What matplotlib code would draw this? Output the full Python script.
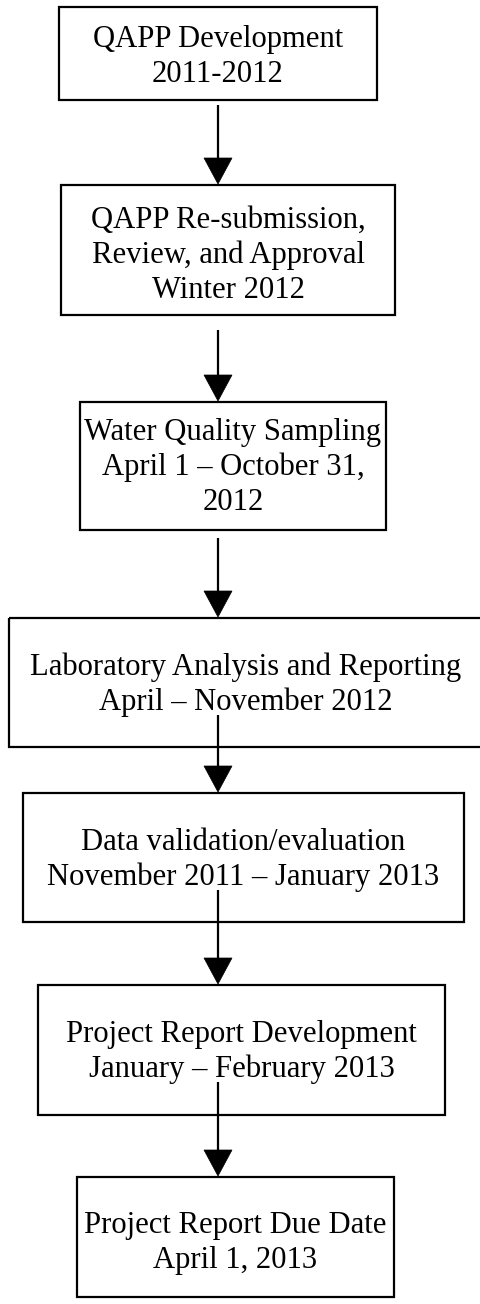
import matplotlib
matplotlib.use("Agg")
import matplotlib.pyplot as plt
from matplotlib.patches import Rectangle, Polygon

plt.rcParams['font.family'] = ['Liberation Serif', 'DejaVu Serif']

# step labels, one list of lines per box
steps = [
    ["QAPP Development", "2011-2012"],
    ["QAPP Re-submission,", "Review, and Approval", "Winter 2012"],
    ["Water Quality Sampling", "April 1 \u2013 October 31,", "2012"],
    ["Laboratory Analysis and Reporting", "April \u2013 November 2012"],
    ["Data validation/evaluation", "November 2011 \u2013 January 2013"],
    ["Project Report Development", "January \u2013 February 2013"],
    ["Project Report Due Date", "April 1, 2013"],
]

# layout in pixels (x0, x1, top, bottom) and first baseline
box_x0 = [59, 61, 80, 9, 23, 38, 77]
box_x1 = [377, 395, 386, 483, 464, 445, 394]
box_top = [7, 185, 402, 618, 793, 985, 1177]
box_bot = [100, 315, 530, 747, 922, 1115, 1297]
first_base = [47, 228, 440, 675, 850, 1042, 1233]
line_gap = 35

# arrows: shaft start and tip
arrow_x = 218
arrow_from = [105, 330, 538, 715, 890, 1082]
arrow_to = [184, 401, 617, 792, 984, 1176]
head_w, head_l = 28, 26

W, H = 480, 1304
fig = plt.figure(figsize=(W / 100, H / 100), dpi=100)
ax = fig.add_axes([0, 0, 1, 1])
ax.set_xlim(0, W)
ax.set_ylim(H, 0)
ax.axis("off")

for i, lines in enumerate(steps):
    ax.add_patch(Rectangle((box_x0[i], box_top[i]), box_x1[i] - box_x0[i],
                           box_bot[i] - box_top[i], fill=False,
                           edgecolor="black", lw=1.6, zorder=1))
    cx = (box_x0[i] + box_x1[i]) / 2
    for j, txt in enumerate(lines):
        ax.text(cx, first_base[i] + j * line_gap, txt, ha="center",
                va="baseline", fontsize=22.1, color="black", zorder=2)

for y0, y1 in zip(arrow_from, arrow_to):
    ax.plot([arrow_x, arrow_x], [y0, y1 - head_l + 2], color="black",
            lw=1.6, zorder=3, solid_capstyle="butt")
    ax.add_patch(Polygon([[arrow_x - head_w / 2, y1 - head_l],
                          [arrow_x + head_w / 2, y1 - head_l],
                          [arrow_x, y1]], closed=True,
                         facecolor="black", edgecolor="black", lw=0.5,
                         zorder=3))

fig.savefig("out.png", dpi=100, facecolor="white")
